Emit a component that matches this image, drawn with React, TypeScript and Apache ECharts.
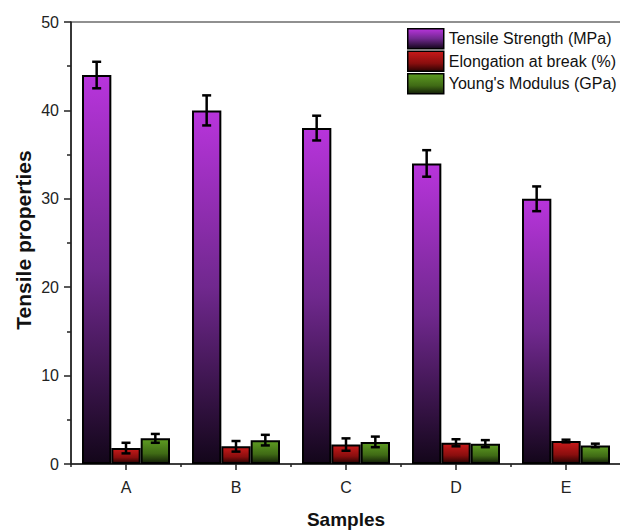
import React, { useEffect, useRef } from "react";
import * as echarts from "echarts";

const categories = ["A", "B", "C", "D", "E"];
const seriesNames = ["Tensile Strength (MPa)", "Elongation at break (%)", "Young's Modulus (GPa)"];
const tensile = [44.0, 40.0, 38.0, 34.0, 30.0];
const tensileErr = [1.5, 1.7, 1.4, 1.5, 1.4];
const elongation = [1.8, 2.0, 2.2, 2.4, 2.6];
const elongationErr = [0.6, 0.6, 0.7, 0.4, 0.15];
const modulus = [2.9, 2.7, 2.5, 2.3, 2.1];
const modulusErr = [0.5, 0.6, 0.6, 0.4, 0.2];
const yTicks = { min: 0, max: 50, interval: 10 };

const FONT = "'Liberation Sans', Arial, sans-serif";

const grad = (stops: [number, string][]) =>
  new echarts.graphic.LinearGradient(0, 0, 0, 1, stops.map(([offset, color]) => ({ offset, color })));

const colors = [
  grad([[0, "#b834dc"], [0.5, "#70288e"], [1, "#13061a"]]),
  grad([[0, "#c81a1a"], [0.6, "#8a0e0e"], [1, "#2a0303"]]),
  grad([[0, "#5e9c22"], [0.6, "#3f6a15"], [1, "#142008"]]),
];

const values = [tensile, elongation, modulus];
const errs = [tensileErr, elongationErr, modulusErr];

export default function App() {
  const ref = useRef<HTMLDivElement>(null);
  useEffect(() => {
    if (!ref.current) return;
    const chart = echarts.init(ref.current, null, { renderer: "svg" });

    const barSeries = values.map((vals, i) => ({
      name: seriesNames[i],
      type: "bar",
      xAxisIndex: 0,
      yAxisIndex: 0,
      data: vals,
      barGap: "0%",
      barCategoryGap: "20%",
      itemStyle: { color: colors[i], borderColor: "#000", borderWidth: 2 },
      z: 2,
    }));

    const errSeries = values.map((vals, i) => ({
      name: seriesNames[i] + " err",
      type: "custom",
      xAxisIndex: 0,
      yAxisIndex: 0,
      z: 5,
      silent: true,
      data: vals.map((v, j) => [j, v, errs[i][j]]),
      renderItem: (params: any, api: any) => {
        const x = api.value(0);
        const v = api.value(1);
        const e = api.value(2);
        const hi = api.coord([x, v + e]);
        const lo = api.coord([x, v - e]);
        const band = api.size([1, 0])[0];
        const bw = (band * 0.8) / 3;
        const cx = hi[0] + (i - 1) * bw;
        const cap = 4.5;
        const style = { stroke: "#000", lineWidth: 2.5 };
        return {
          type: "group",
          children: [
            { type: "line", shape: { x1: cx, y1: hi[1], x2: cx, y2: lo[1] }, style },
            { type: "line", shape: { x1: cx - cap, y1: hi[1], x2: cx + cap, y2: hi[1] }, style },
            { type: "line", shape: { x1: cx - cap, y1: lo[1], x2: cx + cap, y2: lo[1] }, style },
          ],
        };
      },
    }));

    chart.setOption({
      animation: false,
      grid: {
        left: 71, top: 22, width: 550, height: 442,
        show: true, borderColor: "#222", borderWidth: 1.2,
        containLabel: false, outerBoundsMode: "none",
      },
      legend: {
        data: seriesNames,
        orient: "vertical",
        left: 407,
        top: 28,
        itemWidth: 36,
        itemHeight: 20,
        itemGap: 1,
        icon: "rect",
        padding: 0,
        itemStyle: { borderColor: "#000", borderWidth: 1.5 },
        textStyle: { fontFamily: FONT, fontSize: 16, color: "#111", padding: [0, 0, 0, 0] },
      },
      xAxis: [
        {
          type: "category",
          data: categories,
          position: "bottom",
          axisLine: { lineStyle: { color: "#222", width: 1.5 } },
          axisTick: { show: true, alignWithLabel: true, length: 6, inside: false, lineStyle: { color: "#222", width: 1.5 } },
          axisLabel: { fontFamily: FONT, fontSize: 16, color: "#222", margin: 15 },
          name: "Samples",
          nameLocation: "middle",
          nameGap: 46,
          nameTextStyle: { fontFamily: FONT, fontSize: 19, fontWeight: "bold", color: "#111" },
        },
        {
          type: "category",
          data: categories,
          position: "bottom",
          axisLine: { show: false },
          axisTick: { show: true, alignWithLabel: false, length: 3, lineStyle: { color: "#222", width: 1.5 } },
          axisLabel: { show: false },
        },
      ],
      yAxis: {
        type: "value",
        min: yTicks.min,
        max: yTicks.max,
        interval: yTicks.interval,
        axisLine: { show: true, lineStyle: { color: "#222", width: 1.5 } },
        axisTick: { show: true, length: 7, lineStyle: { color: "#222", width: 1.5 } },
        minorTick: { show: true, splitNumber: 2, length: 4, lineStyle: { color: "#222", width: 1.5 } },
        splitLine: { show: false },
        axisLabel: { fontFamily: FONT, fontSize: 16, color: "#222", margin: 12 },
      },
      graphic: [
        {
          type: "text",
          x: 23,
          y: 240,
          rotation: Math.PI / 2,
          style: {
            text: "Tensile properties",
            font: `bold 21px ${FONT}`,
            fill: "#111",
            align: "center",
            verticalAlign: "middle",
          },
        },
      ],
      series: [...barSeries, ...errSeries],
    });
    return () => chart.dispose();
  }, []);
  return <div ref={ref} style={{ position: "absolute", left: 0, top: 0, width: 620, height: 531 }} />;
}
